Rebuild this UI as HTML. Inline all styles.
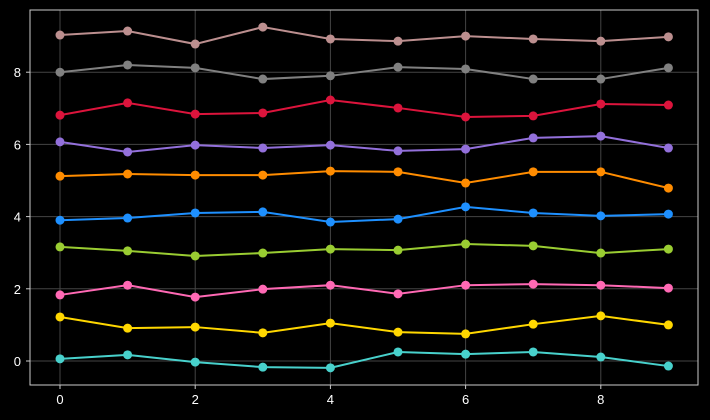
<!DOCTYPE html>
<html><head><meta charset="utf-8"><style>
html,body{margin:0;padding:0;background:#000;}
svg{display:block;font-family:"Liberation Sans",sans-serif;}
</style></head><body>
<svg id="chart" width="710" height="420"></svg>
<script>
const xCats=[0,1,2,3,4,5,6,7,8,9];
const xTicks=[0,2,4,6,8];
const yTicks=[0,2,4,6,8];
const sRosy=[9.03,9.14,8.78,9.25,8.92,8.86,9.0,8.92,8.86,8.98];
const sGray=[8.0,8.2,8.12,7.81,7.9,8.14,8.09,7.81,7.81,8.12];
const sRed=[6.81,7.15,6.84,6.87,7.23,7.01,6.76,6.79,7.12,7.09];
const sPurple=[6.07,5.79,5.98,5.9,5.98,5.82,5.87,6.18,6.23,5.9];
const sOrange=[5.12,5.18,5.15,5.15,5.26,5.24,4.93,5.24,5.24,4.79];
const sBlue=[3.9,3.96,4.1,4.13,3.85,3.93,4.27,4.1,4.02,4.07];
const sGreen=[3.16,3.05,2.91,2.99,3.1,3.07,3.24,3.19,2.99,3.1];
const sPink=[1.83,2.1,1.77,1.99,2.1,1.86,2.1,2.13,2.1,2.02];
const sGold=[1.22,0.91,0.94,0.78,1.05,0.8,0.75,1.02,1.25,1.0];
const sCyan=[0.06,0.17,-0.03,-0.17,-0.19,0.25,0.19,0.25,0.11,-0.14];
const series=[
 ['series-cyan',sCyan,'#48d1cc'],['series-gold',sGold,'#ffd700'],['series-pink',sPink,'#ff69b4'],
 ['series-green',sGreen,'#9acd32'],['series-blue',sBlue,'#1e90ff'],['series-orange',sOrange,'#ff8c00'],
 ['series-purple',sPurple,'#9370db'],['series-red',sRed,'#dc143c'],['series-gray',sGray,'#808080'],
 ['series-rosy',sRosy,'#bc8f8f']];
const L=30,R=698,T=10,B=385;
const xs=v=>60+v*67.6;
const ys=v=>361-v*36.1;
const svg=document.getElementById('chart');
const NS='http://www.w3.org/2000/svg';
function mk(t,a,p){const e=document.createElementNS(NS,t);for(const k in a)e.setAttribute(k,a[k]);(p||svg).appendChild(e);return e;}
const grid=mk('g',{});


xTicks.forEach(v=>{
 mk('line',{x1:xs(v),x2:xs(v),y1:T,y2:B,stroke:'#444','stroke-width':1},grid);
 mk('line',{x1:xs(v),x2:xs(v),y1:B,y2:B+4,stroke:'#ccc','stroke-width':1},grid);
 const t=mk('text',{x:xs(v),y:B+19,fill:'#fff','font-size':13,'text-anchor':'middle'});
 t.textContent=v;
 
 
});
yTicks.forEach(v=>{
 mk('line',{x1:L,x2:R,y1:ys(v),y2:ys(v),stroke:'#444','stroke-width':1},grid);
 mk('line',{x1:L-4,x2:L,y1:ys(v),y2:ys(v),stroke:'#ccc','stroke-width':1},grid);
 const t=mk('text',{x:L-9,y:ys(v)+5,fill:'#fff','font-size':13,'text-anchor':'end'});
 t.textContent=v;
 
 
});
series.forEach(([name,vals,c])=>{
 const g=mk('g',{});
 
 
 mk('polyline',{points:vals.map((v,i)=>xs(xCats[i])+','+ys(v)).join(' '),fill:'none',stroke:c,'stroke-width':2},g);
 vals.forEach((v,i)=>{
  const p=mk('circle',{cx:xs(xCats[i]),cy:ys(v),r:4.5,fill:c},g);
  
  
 });
});
const f=mk('rect',{x:L,y:T,width:R-L,height:B-T,fill:'none',stroke:'#ccc','stroke-width':1});


</script>
</body></html>
